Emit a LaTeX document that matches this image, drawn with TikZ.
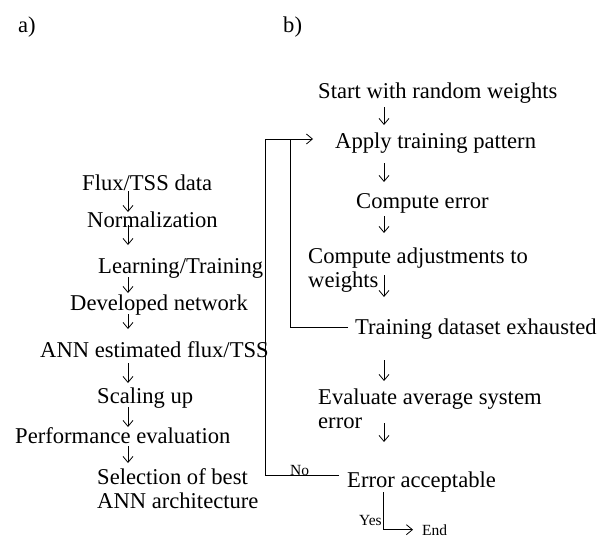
\documentclass[tikz,border=0pt]{standalone}
\usepackage{fontspec}
\setmainfont{Liberation Serif}
\usetikzlibrary{arrows.meta}
\begin{document}
\begin{tikzpicture}[x=1pt,y=-1pt,
  txt/.style={inner sep=0pt, anchor=base west, font=\fontsize{22.6}{24}\selectfont, align=left},
  sml/.style={inner sep=0pt, anchor=base west, font=\fontsize{15.5}{17}\selectfont},
  line/.style={line width=0.9pt},
  arr/.style={line width=0.8pt, -{Straight Barb[length=6pt,width=10pt]}}]
\useasboundingbox (0,0) rectangle (598,538);
% panel labels
\node[txt] (la) at (18,32) {a)};
\node[txt] (lb) at (283,32) {b)};
% column a
\node[txt] (flux) at (82,190) {Flux/TSS data};
\node[txt] (norm) at (87,227) {Normalization};
\node[txt] (learn) at (98,273) {Learning/Training};
\node[txt] (dev) at (70,310) {Developed network};
\node[txt] (est) at (40,357) {ANN estimated flux/TSS};
\node[txt] (scale) at (97,403) {Scaling up};
\node[txt] (perf) at (15,443) {Performance evaluation};
\node[txt] (sel) at (97,508) {Selection of best\\ANN architecture};
% column b
\node[txt] (start) at (318,98) {Start with random weights};
\node[txt] (apply) at (335,148) {Apply training pattern};
\node[txt] (cerr) at (356,208) {Compute error};
\node[txt] (adj) at (308,287) {Compute adjustments to\\weights};
\node[txt] (tde) at (355,334) {Training dataset exhausted};
\node[txt] (eval) at (318,428) {Evaluate average system\\error};
\node[txt] (ea) at (347,487) {Error acceptable};
\node[sml] (no) at (290,475) {No};
\node[sml] (yes) at (359,525) {Yes};
\node[sml] (end) at (422,535) {End};
% helper coordinates
\coordinate (ax) at (128,0);
\coordinate (bx) at (384,0);
\coordinate (in) at (290,139);
\coordinate (out) at (265,139);
\coordinate (yx) at (383,0);
% arrows column a
\draw[arr] ([yshift=-1pt]flux.base -| ax) -- ([yshift=15pt]norm.base -| ax);
\draw[arr] ([yshift=2pt]norm.base -| ax) -- ([yshift=28pt]learn.base -| ax);
\draw[arr] ([yshift=-4pt]learn.base -| ax) -- ([yshift=17pt]dev.base -| ax);
\draw[arr] ([yshift=-4pt]dev.base -| ax) -- ([yshift=28pt]est.base -| ax);
\draw[arr] ([yshift=-6pt]est.base -| ax) -- ([yshift=20pt]scale.base -| ax);
\draw[arr] ([yshift=-4pt]scale.base -| ax) -- ([yshift=16pt]perf.base -| ax);
\draw[arr] ([yshift=-3pt]perf.base -| ax) -- ([yshift=45pt]sel.base -| ax);
% arrows column b
\draw[arr] ([yshift=-9pt]start.base -| bx) -- ([yshift=23pt]apply.base -| bx);
\draw[arr] ([yshift=-15pt]apply.base -| bx) -- ([yshift=26pt]cerr.base -| bx);
\draw[arr] ([yshift=-8pt]cerr.base -| bx) -- ([yshift=54pt]adj.base -| bx);
\draw[arr] ([yshift=12pt]adj.base -| bx) -- ([yshift=37pt]tde.base -| bx);
\draw[arr] ([yshift=-26pt]tde.base -| bx) -- ([yshift=47pt]eval.base -| bx);
\draw[arr] ([yshift=5pt]eval.base -| bx) -- ([yshift=45pt]ea.base -| bx);
% loops
\draw[line] ([shift={(-7pt,7pt)}]tde.base west) -| (in);
\draw[arr] ([shift={(-8pt,12pt)}]ea.base west) -| (out) -- ([shift={(-22pt,9pt)}]apply.base west);
\draw[arr] (ea.south -| yx) |- ([xshift=-9pt]end.west);
\end{tikzpicture}
\end{document}
